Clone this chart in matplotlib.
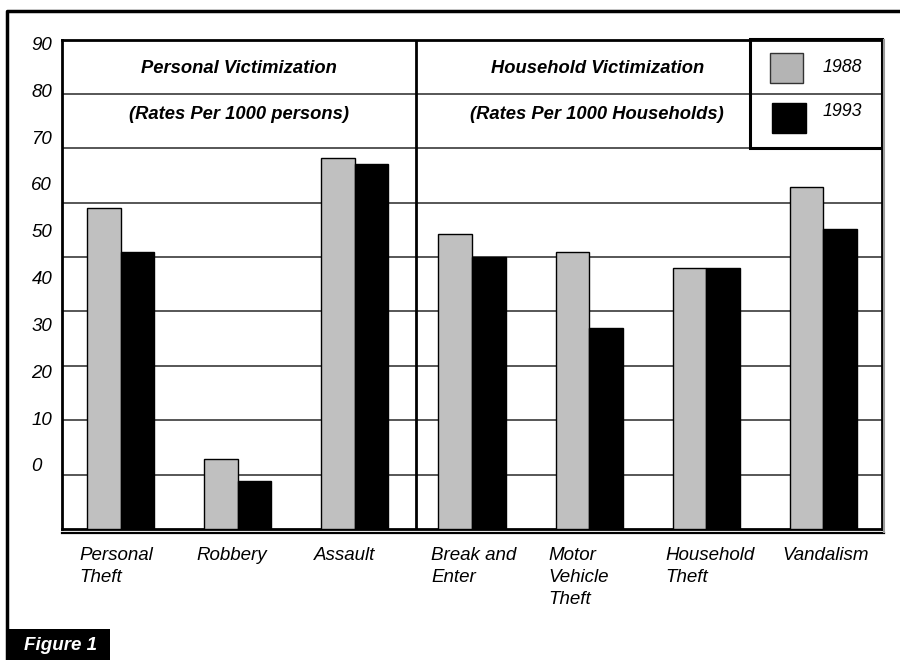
import numpy as np
import matplotlib
matplotlib.use("Agg")
import matplotlib.pyplot as plt
from matplotlib.patches import Rectangle
from matplotlib.lines import Line2D

plt.rcParams['font.family'] = ['Liberation Sans', 'DejaVu Sans']

# data (rates per 1000)
categories = ["Personal\nTheft", "Robbery", "Assault", "Break and\nEnter",
              "Motor\nVehicle\nTheft", "Household\nTheft", "Vandalism"]
rates_1988 = [59.1, 12.9, 68.2, 54.2, 50.9, 48.0, 62.9]
rates_1993 = [51.0, 8.9, 67.2, 50.0, 37.0, 48.0, 55.2]
years = ["1988", "1993"]
tick_values = [0, 10, 20, 30, 40, 50, 60, 70, 80, 90]

gray = "#c0c0c0"

fig = plt.figure(figsize=(9, 6.6), dpi=100)
ax = fig.add_axes([62/900, 1 - 529/660, 820/900, 489.5/660])

x = np.arange(len(categories))
w = 0.286
ax.bar(x - w/2, rates_1988, w, color=gray, edgecolor="black", linewidth=1, zorder=3)
ax.bar(x + w/2, rates_1993, w, color="black", edgecolor="black", linewidth=1, zorder=3)

ax.set_xlim(-0.5, 6.5)
ax.set_ylim(0, 90)

# horizontal grid
for g in range(10, 90, 10):
    ax.axhline(g, color="#3a3a3a", linewidth=1.2, zorder=1)

# divider between personal and household
ax.plot([2.52, 2.52], [0, 90], color="black", linewidth=2, zorder=4)

# y tick labels (they sit off the grid in the original)
ax.set_xticks([])
ax.set_yticks([11.77 + 0.8614 * v for v in tick_values])
ax.set_yticklabels([str(v) for v in tick_values], fontsize=13.5, style="italic")
ax.tick_params(axis="y", length=0, pad=22)
for lab in ax.get_yticklabels():
    lab.set_horizontalalignment("left")

for s in ax.spines.values():
    s.set_linewidth(2)

# section titles
tkw = dict(ha="center", va="center", fontsize=13.2, fontweight="bold",
           style="italic", zorder=5)
ax.text(1.01, 84.7, "Personal Victimization", **tkw)
ax.text(1.01, 76.3, "(Rates Per 1000 persons)", **tkw)
ax.text(4.07, 84.7, "Household Victimization", **tkw)
ax.text(4.07, 76.3, "(Rates Per 1000 Households)", **tkw)

# legend table
ax.add_patch(Rectangle((5.375, 70), 1.125, 20, fill=False, edgecolor="black",
                       linewidth=2.2, zorder=5, clip_on=False))
ax.add_patch(Rectangle((5.544, 82.06), 0.284, 5.5, facecolor="#b4b4b4",
                       edgecolor="#333333", linewidth=1, zorder=5))
ax.add_patch(Rectangle((5.563, 72.86), 0.286, 5.5, facecolor="black",
                       edgecolor="black", linewidth=1, zorder=5))
ax.text(5.99, 84.8, years[0], ha="left", va="center", fontsize=12.8, style="italic", zorder=5)
ax.text(5.99, 76.7, years[1], ha="left", va="center", fontsize=12.8, style="italic", zorder=5)

# category labels
for i, c in enumerate(categories):
    ax.text(i - 0.35, -0.036, c, transform=ax.get_xaxis_transform(), ha="left",
            va="top", fontsize=13.5, style="italic", linespacing=1.4)

# double bottom line and right shadow
fig.add_artist(Line2D([62/900, 884/900], [1 - 532.5/660, 1 - 532.5/660],
                      color="black", linewidth=1.6))
fig.add_artist(Line2D([884/900, 884/900], [1 - 532/660, 1 - 40/660],
                      color="#9a9a9a", linewidth=1.5))

# outer frame
fig.add_artist(Line2D([7/900, 7/900, 1.0], [0.0, 1 - 11/660, 1 - 11/660],
                      color="black", linewidth=2.5))

# figure tag
fig.add_artist(Rectangle((6/900, 0), 104/900, 31/660, facecolor="black",
                         edgecolor="none", transform=fig.transFigure))
fig.text(60/900, 15/660, "Figure 1", ha="center", va="center", color="white",
         fontsize=13.5, fontweight="bold", style="italic")

fig.savefig("out.png", dpi=100)
